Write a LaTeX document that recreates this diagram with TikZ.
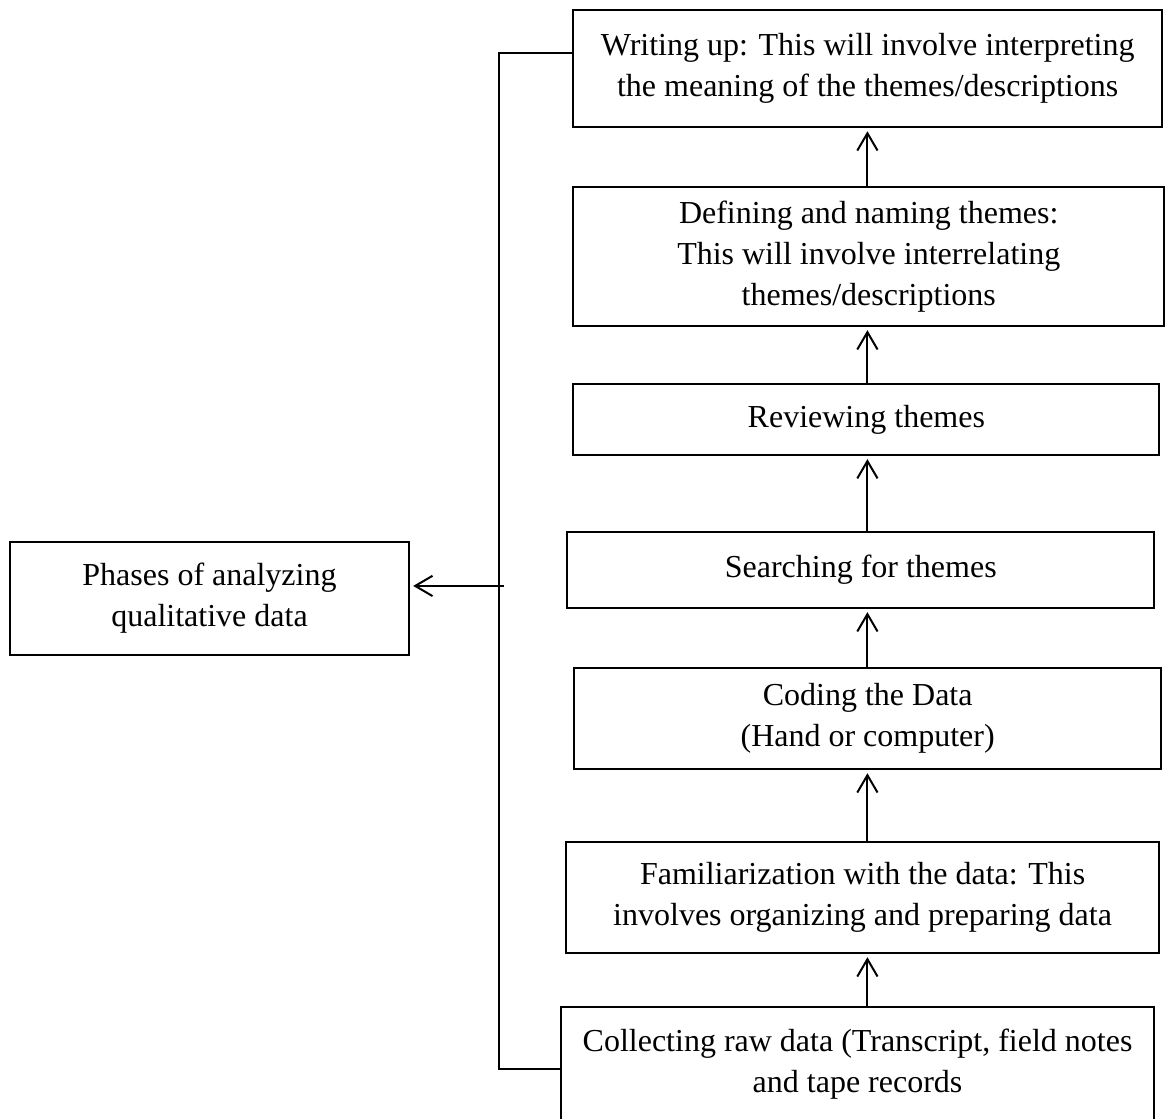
\documentclass[tikz,border=0pt]{standalone}
\usepackage{fontspec}
\setmainfont{Liberation Serif}
\usetikzlibrary{positioning,arrows.meta,calc}

\begin{document}
\begin{tikzpicture}[font=\fontsize{12}{15.4}\selectfont,
      box/.style={draw,line width=0.75pt,align=center,inner sep=2pt,
                  outer sep=0pt,minimum width=220pt},
      fl/.style={-{Straight Barb[length=6.5pt,width=7.6pt]},line width=0.75pt,
                 shorten >=1.6pt},
      rule/.style={line width=0.75pt}]
    \useasboundingbox (0,0) rectangle (436.9pt,-419.6pt);
    % the steps, from the bottom up
    \node[box,minimum width=222.4pt,minimum height=42.75pt] (collect) at (321.6pt,-399pt)
        {Collecting raw data (Transcript, field notes\\and tape records};
    \node[box,minimum width=222.4pt,minimum height=41.6pt,above=20.25pt of collect,xshift=1.9pt] (famil)
        {Familiarization with the data: This\\involves organizing and preparing data};
    \node[box,minimum width=220.1pt,minimum height=37.9pt,above=27.4pt of famil,xshift=1.9pt] (coding)
        {Coding the Data\\(Hand or computer)};
    \node[box,minimum width=220.1pt,minimum height=28.5pt,above=22.5pt of coding,xshift=-2.6pt] (search)
        {Searching for themes};
    \node[box,minimum width=219.8pt,minimum height=26.6pt,above=28.9pt of search,xshift=2.1pt] (review)
        {Reviewing themes};
    \node[box,minimum width=221.6pt,minimum height=52.1pt,above=21.75pt of review,xshift=0.9pt] (define)
        {Defining and naming themes:\\This will involve interrelating\\themes/descriptions};
    \node[box,minimum width=220.9pt,minimum height=43.9pt,above=22.5pt of define,xshift=-0.4pt] (write)
        {Writing up: This will involve interpreting\\the meaning of the themes/descriptions};
    \node[box,minimum width=149.6pt,minimum height=42.4pt] (phases) at (78.56pt,-224.44pt)
        {Phases of analyzing\\qualitative data};

    \coordinate (axis) at (325.3pt,0);
    \coordinate (spine) at (187.1pt,0);
    \draw[fl] (collect.north -| axis) -- (famil.south -| axis);
    \draw[fl] (famil.north -| axis) -- (coding.south -| axis);
    \draw[fl] (coding.north -| axis) -- (search.south -| axis);
    \draw[fl] (search.north -| axis) -- (review.south -| axis);
    \draw[fl] (review.north -| axis) -- (define.south -| axis);
    \draw[fl] (define.north -| axis) -- (write.south -| axis);

    % bracket joining first and last step
    \coordinate (wtop) at ([yshift=5.8pt]write.west);
    \coordinate (cbot) at ([yshift=-1.9pt]collect.west);
    \draw[rule] (wtop) -| (spine |- cbot) -- (cbot);
    \coordinate (tap) at ([yshift=4.7pt]phases.east);
    \draw[fl] ($(tap -| spine)+(1.9pt,0)$) -- (tap);
\end{tikzpicture}
\end{document}
